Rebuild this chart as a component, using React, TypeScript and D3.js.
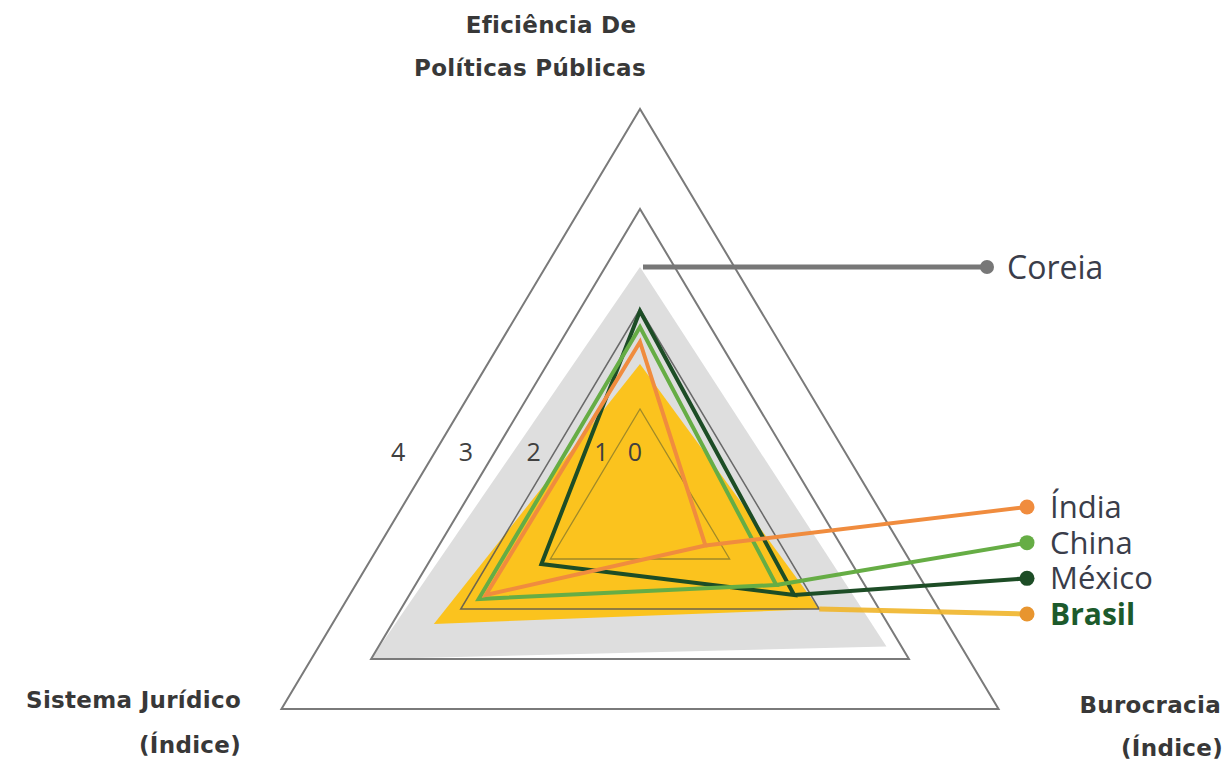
import React from "react";
import * as d3 from "d3";

const axes = ["Eficiência De Políticas Públicas", "Sistema Jurídico (Índice)", "Burocracia (Índice)"];
const ticks = [0, 1, 2, 3, 4];
const seriesNames = ["Coreia", "Índia", "China", "México", "Brasil"];
const coreia = [2.42, 3.0, 2.75];
const brasil = [1.45, 2.3, 2.0];
const mexico = [1.98, 1.1, 1.72];
const china = [1.82, 1.8, 1.52];
const india = [1.67, 1.72, 0.73];

const W = 1230, H = 762;
const cx = 640, cy = 509;
const kx = 1.035;
const rScale = d3.scaleLinear().domain([0, 4]).range([0, 400]);
const angles = [-90, 150, 30].map((d) => (d * Math.PI) / 180);

function pt(i: number, v: number): [number, number] {
  const r = rScale(v);
  return [cx + kx * r * Math.cos(angles[i]), cy + r * Math.sin(angles[i])];
}
const polyLine = d3.line<[number, number]>().curve(d3.curveLinearClosed);
const poly = (vals: number[]) => polyLine(vals.map((v, i) => pt(i, v))) as string;
const ring = (v: number) => poly([v, v, v]);

const legendY = d3.scalePoint<string>().domain(["Índia", "China", "México", "Brasil"]).range([507, 614]);
const dotX = 1027;

export default function App() {
  const outlines = [
    { name: "México", vals: mexico, color: "#1d4d26" },
    { name: "China", vals: china, color: "#66ad45" },
    { name: "Índia", vals: india, color: "#f08c3e" },
  ];
  const tickLabelX = (t: number) => {
    const R = rScale(t);
    if (t === 0) return cx - 5;
    const yy = 452;
    const tt = (yy - (cy - R)) / (1.5 * R);
    const edge = cx - kx * 0.866 * R * tt;
    return edge - (0.08 * R + 5);
  };
  const coreiaTop = pt(0, coreia[0]);
  const brasilBR = pt(2, brasil[2]);
  return (
    <svg width={W} height={H} style={{ position: "absolute", left: 0, top: 0, background: "#fff" }}>
      {/* Coreia fill */}
      <path d={poly(coreia)} fill="#dedede" />
      {/* Brasil fill */}
      <path d={poly(brasil)} fill="#fbc31e" />
      {/* grid rings */}
      {[4, 3].map((t) => (
        <path key={"o" + t} d={ring(t)} fill="none" stroke="#7a7a7a" strokeWidth={2} />
      ))}
      <path d={ring(2)} fill="none" stroke="#555" strokeOpacity={0.85} strokeWidth={1.5} />
      <path d={ring(1)} fill="none" stroke="#8a7a2a" strokeOpacity={0.8} strokeWidth={1.3} />
      {/* Coreia leader */}
      <line x1={coreiaTop[0] + 3} y1={coreiaTop[1]} x2={dotX - 40} y2={coreiaTop[1]} stroke="#777" strokeWidth={5} />
      <circle cx={dotX - 40} cy={coreiaTop[1]} r={7} fill="#777" />
      <text x={dotX - 20} y={coreiaTop[1]} dy="0.36em" fontFamily="Open Sans" fontSize={32} fill="#3a3d4a">Coreia</text>
      {/* Brasil leader */}
      <line x1={brasilBR[0]} y1={brasilBR[1]} x2={dotX} y2={legendY("Brasil")} stroke="#f0b52a" strokeOpacity={0.9} strokeWidth={5} />
      <circle cx={dotX} cy={legendY("Brasil")} r={7.5} fill="#e8952f" />
      {/* outlines */}
      {outlines.map((s) => {
        const br = pt(2, s.vals[2]);
        const ly = legendY(s.name) as number;
        return (
          <g key={s.name}>
            <path d={poly(s.vals)} fill="none" stroke={s.color} strokeWidth={4} strokeLinejoin="miter" />
            <line x1={br[0]} y1={br[1]} x2={dotX} y2={ly} stroke={s.color} strokeWidth={4} />
            <circle cx={dotX} cy={ly} r={7.5} fill={s.color} />
          </g>
        );
      })}
      {/* legend labels */}
      {["Índia", "China", "México", "Brasil"].map((n) => (
        <text
          key={n}
          x={dotX + 23}
          y={legendY(n) as number}
          dy="0.36em"
          fontFamily="Open Sans"
          fontSize={n === "Brasil" ? 30 : 31}
          fontWeight={n === "Brasil" ? 700 : 400}
          fill={n === "Brasil" ? "#1c5a2c" : "#3a3d4a"}
        >
          {n}
        </text>
      ))}
      {/* tick labels */}
      {ticks.map((t) => (
        <text key={t} x={tickLabelX(t)} y={452} dy="0.36em" textAnchor="middle" fontFamily="Open Sans" fontSize={25} fill="#404040">
          {t}
        </text>
      ))}
      {/* axis titles */}
      <g fontFamily="DejaVu Sans" fontWeight="bold" fontSize={23} fill="#383838" letterSpacing={0.3}>
        <text x={551} y={25} dy="0.36em" textAnchor="middle">Eficiência De</text>
        <text x={530} y={68} dy="0.36em" textAnchor="middle">Políticas Públicas</text>
        <text x={241} y={700} dy="0.36em" textAnchor="end">Sistema Jurídico</text>
        <text x={241} y={745} dy="0.36em" textAnchor="end">(Índice)</text>
        <text x={1221} y={705} dy="0.36em" textAnchor="end">Burocracia</text>
        <text x={1223} y={748} dy="0.36em" textAnchor="end">(Índice)</text>
      </g>
    </svg>
  );
}
